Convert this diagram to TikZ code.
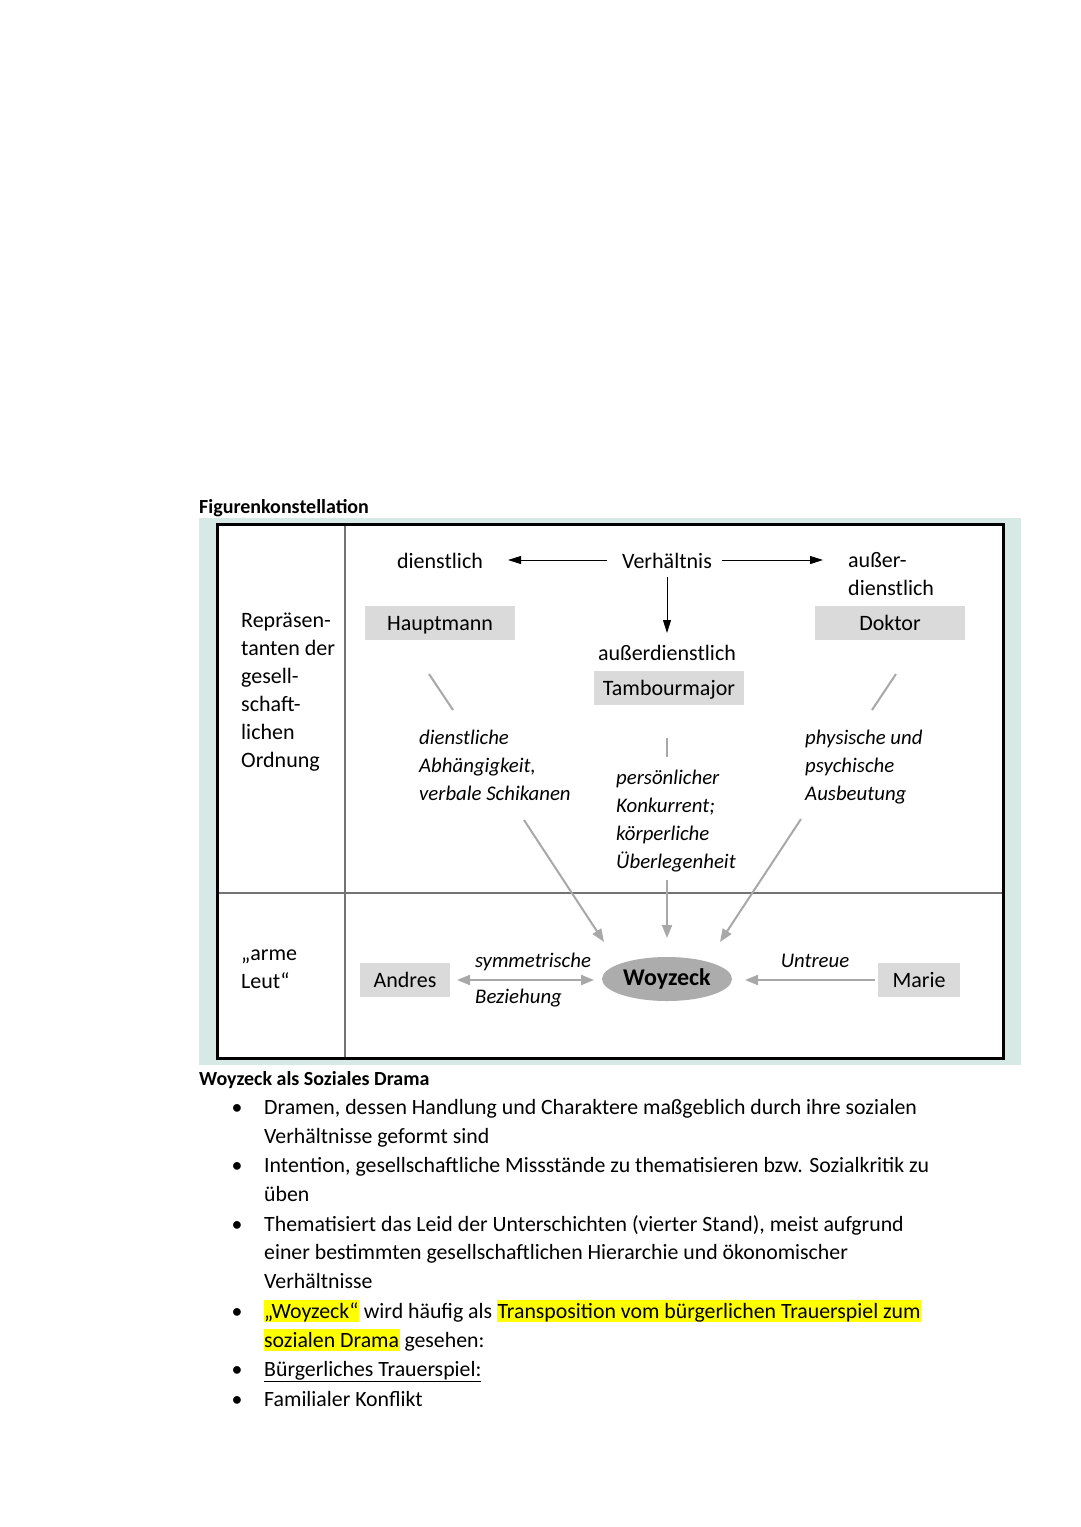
\documentclass[tikz,border=0pt]{standalone}
\usepackage{fontspec}
\setmainfont{Carlito}
\usetikzlibrary{arrows.meta,shapes.geometric}
\definecolor{tealbg}{RGB}{214,233,228}
\definecolor{boxgray}{RGB}{218,218,218}
\definecolor{arrgray}{RGB}{168,168,168}
\definecolor{ellgray}{RGB}{172,172,172}
\definecolor{divgray}{RGB}{115,115,115}
\definecolor{hlyellow}{RGB}{255,255,0}
\newcommand\hlt[1]{{\setlength\fboxsep{0.5pt}\colorbox{hlyellow}{\vphantom{Üg}#1}}}
\begin{document}
\begin{tikzpicture}[x=1pt,y=-1pt,
  dfont/.style={font=\fontsize{22}{28}\selectfont},
  dtext/.style={dfont,inner sep=0,anchor=base},
  dleft/.style={dfont,inner sep=0,anchor=base west,align=left},
  ditl/.style={font=\fontsize{20.8}{28}\selectfont\itshape,inner sep=0,anchor=base west,align=left},
  person/.style={dfont,fill=boxgray,minimum height=34,inner sep=0,text height=15.5,text depth=0.5},
  blackarrow/.style={-{Triangle[length=13,width=8]},line width=0.9,black},
  grayarrow/.style={-{Triangle[length=13,width=10]},line width=2,arrgray},
  grayline/.style={line width=2,arrgray},
  btext/.style={font=\fontsize{21.8}{29}\selectfont,inner sep=0,anchor=base west},
  bullet/.style={font=\fontsize{21.8}{29}\selectfont,inner sep=0,anchor=base}
]
\useasboundingbox[fill=white] (0,0) rectangle (1080,1527);

% title
\node[btext,font=\fontsize{20}{29}\selectfont\bfseries] (title) at (199,513) {Figurenkonstellation};

% frame
\fill[tealbg] (199,518) rectangle (1021,1065);
\draw[fill=white,line width=3] (217,524) rectangle (1003,1058);
\draw[divgray,line width=1.5] (345,525.5) -- (345,1056.5);
\draw[divgray,line width=1.5] (218.5,893) -- (1001.5,893);

% left column (base = last line)
\node[dleft] (repr) at (241,767) {Repräsen-\\tanten der\\gesell-\\schaft-\\lichen\\Ordnung};
\node[dleft] (arme) at (241,988) {„arme\\Leut“};

% top row
\node[dtext] (dienst) at (440,568) {dienstlich};
\node[dtext] (verh) at (667,568) {Verhältnis};
\node[dleft] (ausser) at (848,595) {außer-\\dienstlich};
\coordinate (vl) at (607,560); \coordinate (vle) at (508,560);
\coordinate (vr) at (722,560); \coordinate (vre) at (823,560);
\coordinate (vd) at (667,577); \coordinate (vde) at (667,633);
\draw[blackarrow] (vl) -- (vle);
\draw[blackarrow] (vr) -- (vre);
\draw[blackarrow] (vd) -- (vde);

% persons
\node[person,minimum width=150] (haupt) at (440,623) {Hauptmann};
\node[person,minimum width=150] (doktor) at (890,623) {Doktor};
\node[dtext] (ausserd) at (667,660) {außerdienstlich};
\node[person,minimum width=150] (tambour) at (669,688) {Tambourmajor};
\node[person,minimum width=90] (andres) at (405,980) {Andres};
\node[person,minimum width=82] (marie) at (919,980) {Marie};
\node[ellipse,fill=ellgray,minimum width=130,minimum height=44,inner sep=0,
      font=\fontsize{24}{28}\selectfont\bfseries] (woy) at (667,979) {Woyzeck};

% relation texts (base = last line)
\node[ditl] (dlabel) at (419,800) {dienstliche\\Abhängigkeit,\\verbale Schikanen};
\node[ditl] (plabel) at (616,868) {persönlicher\\Konkurrent;\\körperliche\\Überlegenheit};
\node[ditl] (alabel) at (805,800) {physische und\\psychische\\Ausbeutung};
\node[ditl,anchor=base] (sym) at (533,967) {symmetrische};
\node[ditl] (bez) at (475,1003) {Beziehung};
\node[ditl,anchor=base] (untreue) at (815,967) {Untreue};

% short gray lines
\coordinate (h1) at (429,674); \coordinate (h2) at (453,710);
\coordinate (d1) at (896,674); \coordinate (d2) at (872,710);
\coordinate (t1) at (667,738); \coordinate (t2) at (667,757);
\draw[grayline] (h1) -- (h2);
\draw[grayline] (d1) -- (d2);
\draw[grayline] (t1) -- (t2);

% gray arrows to Woyzeck
\coordinate (a1) at (524,820); \coordinate (a1e) at (604,942);
\coordinate (a2) at (667,880); \coordinate (a2e) at (667,938);
\coordinate (a3) at (801,819); \coordinate (a3e) at (720,942);
\draw[grayarrow] (a1) -- (a1e);
\draw[grayarrow] (a2) -- (a2e);
\draw[grayarrow] (a3) -- (a3e);
\coordinate (s1) at (457,980); \coordinate (s2) at (594,980);
\draw[grayarrow,{Triangle[length=13,width=10]}-{Triangle[length=13,width=10]}] (s1) -- (s2);
\coordinate (m1) at (875,980); \coordinate (m2) at (745,980);
\draw[grayarrow] (m1) -- (m2);

% text section
\node[btext,font=\fontsize{20}{29}\selectfont\bfseries] (title2) at (199,1085) {Woyzeck als Soziales Drama};
\node[bullet] (b1) at (237,1114) {•};
\node[btext] (l1) at (264,1114) {Dramen, dessen Handlung und Charaktere maßgeblich durch ihre sozialen};
\node[btext] (l2) at (264,1143) {Verhältnisse geformt sind};
\node[bullet] (b2) at (237,1172) {•};
\node[btext] (l3) at (264,1172) {Intention, gesellschaftliche Missstände zu thematisieren bzw. Sozialkritik zu};
\node[btext] (l4) at (264,1201) {üben};
\node[bullet] (b3) at (237,1231) {•};
\node[btext] (l5) at (264,1231) {Thematisiert das Leid der Unterschichten (vierter Stand), meist aufgrund};
\node[btext] (l6) at (264,1259) {einer bestimmten gesellschaftlichen Hierarchie und ökonomischer};
\node[btext] (l7) at (264,1288) {Verhältnisse};
\node[bullet] (b4) at (237,1318) {•};
\node[btext] (l8) at (263.5,1318) {\hlt{„Woyzeck“} wird häufig als \hlt{Transposition vom bürgerlichen Trauerspiel zum}};
\node[btext] (l9) at (263.5,1347) {\hlt{sozialen Drama} gesehen:};
\node[bullet] (b5) at (237,1376) {•};
\node[btext] (l10) at (264,1376) {\underline{Bürgerliches Trauerspiel:}};
\node[bullet] (b6) at (237,1406) {•};
\node[btext] (l11) at (264,1406) {Familialer Konflikt};
\end{tikzpicture}
\end{document}
